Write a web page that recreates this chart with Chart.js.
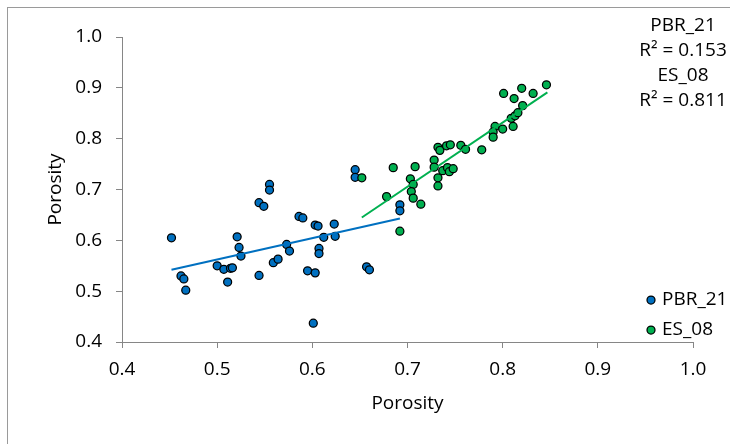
<!DOCTYPE html>
<html>
<head>
<meta charset="utf-8">
<script src="https://cdn.jsdelivr.net/npm/chart.js@4.4.1/dist/chart.umd.min.js"></script>
<style>
  html, body { margin: 0; padding: 0; background: #fff; overflow: hidden; }
  #wrap { position: relative; width: 730px; height: 444px; overflow: hidden; }
  #frame { position: absolute; left: 7px; top: 7px; width: 760px; height: 480px; border: 1px solid #9a9a9a; }
  #myChart { position: absolute; left: 0; top: 0; }
</style>
</head>
<body>
<div id="wrap">
  <div id="frame"></div>
  <canvas id="myChart" width="730" height="444"></canvas>
</div>
<script>
// PBR_21 samples
const pbrX = [0.452, 0.462, 0.465, 0.467, 0.500, 0.507, 0.514, 0.516, 0.511, 0.521,
              0.523, 0.525, 0.544, 0.544, 0.549, 0.555, 0.555, 0.559, 0.564, 0.573,
              0.576, 0.586, 0.590, 0.595, 0.603, 0.603, 0.606, 0.607, 0.607, 0.612,
              0.623, 0.624, 0.601, 0.645, 0.645, 0.657, 0.660, 0.692, 0.692];
const pbrY = [0.605, 0.530, 0.524, 0.502, 0.550, 0.543, 0.545, 0.546, 0.518, 0.607,
              0.586, 0.569, 0.531, 0.674, 0.667, 0.710, 0.699, 0.556, 0.563, 0.592,
              0.579, 0.647, 0.644, 0.540, 0.536, 0.630, 0.628, 0.584, 0.574, 0.606,
              0.632, 0.608, 0.437, 0.739, 0.724, 0.548, 0.542, 0.670, 0.658];

// ES_08 samples
const esX = [0.652, 0.678, 0.685, 0.692, 0.708, 0.703, 0.706, 0.704, 0.706, 0.714,
             0.728, 0.732, 0.734, 0.728, 0.732, 0.732, 0.737, 0.742, 0.744, 0.748,
             0.741, 0.745, 0.756, 0.761, 0.778, 0.792, 0.790, 0.790, 0.800, 0.801,
             0.809, 0.813, 0.816, 0.821, 0.811, 0.812, 0.820, 0.832, 0.846];
const esY = [0.723, 0.686, 0.743, 0.618, 0.745, 0.721, 0.710, 0.696, 0.683, 0.671,
             0.758, 0.783, 0.777, 0.744, 0.723, 0.707, 0.737, 0.743, 0.735, 0.741,
             0.786, 0.788, 0.787, 0.779, 0.778, 0.824, 0.813, 0.803, 0.819, 0.889,
             0.840, 0.845, 0.851, 0.865, 0.824, 0.879, 0.899, 0.889, 0.906];

// linear trend lines (end points)
const pbrTrendX = [0.452, 0.692];
const pbrTrendY = [0.542, 0.643];
const esTrendX = [0.652, 0.847];
const esTrendY = [0.645, 0.891];

const noteLines = ['PBR_21', 'R² = 0.153', 'ES_08', 'R² = 0.811'];

const FONT = '"Open Sans", Lato, sans-serif';
const FONT_SIZE = 19;
const BLUE = '#0070C0';
const GREEN = '#00B050';
const AXIS = '#868686';

function toPoints(xs, ys) {
  return xs.map((x, i) => ({ x: x, y: ys[i] }));
}

// R² notes and the legend drawn inside the plot
const notesPlugin = {
  id: 'notes',
  afterDraw(chart) {
    const c = chart.ctx;
    c.save();
    c.font = `${FONT_SIZE}px ${FONT}`;
    c.fillStyle = '#000';
    c.textAlign = 'center';
    c.textBaseline = 'middle';
    noteLines.forEach((t, i) => c.fillText(t, 683, 26 + i * 25));

    const items = chart.data.datasets.filter(d => d.inLegend);
    c.textAlign = 'left';
    items.forEach((d, i) => {
      const y = 300 + i * 30;
      c.beginPath();
      c.arc(651, y, 4, 0, Math.PI * 2);
      c.fillStyle = d.backgroundColor;
      c.fill();
      c.lineWidth = 1.25;
      c.strokeStyle = '#000';
      c.stroke();
      c.fillStyle = '#000';
      c.fillText(d.label, 662, y);
    });
    c.restore();
  }
};

function chart() {
  const ctx = document.getElementById('myChart').getContext('2d');

  const data = {
    datasets: [
      {
        label: 'PBR_21',
        inLegend: true,
        data: toPoints(pbrX, pbrY),
        backgroundColor: BLUE,
        borderColor: '#000',
        pointBorderWidth: 1.25,
        pointRadius: 4,
        order: 2
      },
      {
        label: 'ES_08',
        inLegend: true,
        data: toPoints(esX, esY),
        backgroundColor: GREEN,
        borderColor: '#000',
        pointBorderWidth: 1.25,
        pointRadius: 4,
        order: 1
      },
      {
        label: '',
        type: 'line',
        data: toPoints(pbrTrendX, pbrTrendY),
        borderColor: BLUE,
        borderWidth: 2,
        pointRadius: 0,
        fill: false,
        tension: 0,
        order: 0
      },
      {
        label: '',
        type: 'line',
        data: toPoints(esTrendX, esTrendY),
        borderColor: GREEN,
        borderWidth: 2,
        pointRadius: 0,
        fill: false,
        tension: 0,
        order: 0
      }
    ]
  };

  const tickFont = { family: FONT, size: FONT_SIZE };

  const config = {
    type: 'scatter',
    data: data,
    options: {
      responsive: false,
      animation: false,
      layout: { padding: { left: 0, top: 37, right: 37, bottom: 0 } },
      plugins: {
        legend: { display: false },
        tooltip: { enabled: false }
      },
      scales: {
        x: {
          type: 'linear',
          min: 0.4,
          max: 1.0,
          ticks: {
            stepSize: 0.1,
            callback: v => v.toFixed(1),
            font: tickFont,
            color: '#000',
            padding: 10,
            maxRotation: 0
          },
          grid: { drawOnChartArea: false, drawTicks: true, tickLength: 6, color: AXIS },
          border: { color: AXIS, width: 1 },
          title: {
            display: true,
            text: 'Porosity',
            font: tickFont,
            color: '#000',
            padding: { top: 0, bottom: 29 }
          },
          afterFit: s => { s.height = 102; }
        },
        y: {
          type: 'linear',
          min: 0.4,
          max: 1.0,
          ticks: {
            stepSize: 0.1,
            callback: v => v.toFixed(1),
            font: tickFont,
            color: '#000',
            padding: 14
          },
          grid: { drawOnChartArea: false, drawTicks: true, tickLength: 6, color: AXIS },
          border: { color: AXIS, width: 1 },
          title: {
            display: true,
            text: 'Porosity',
            font: tickFont,
            color: '#000',
            padding: { top: 44, bottom: 0 }
          },
          afterFit: s => { s.width = 122; }
        }
      }
    },
    plugins: [notesPlugin]
  };
  new Chart(ctx, config);
}

chart();
</script>
</body>
</html>
